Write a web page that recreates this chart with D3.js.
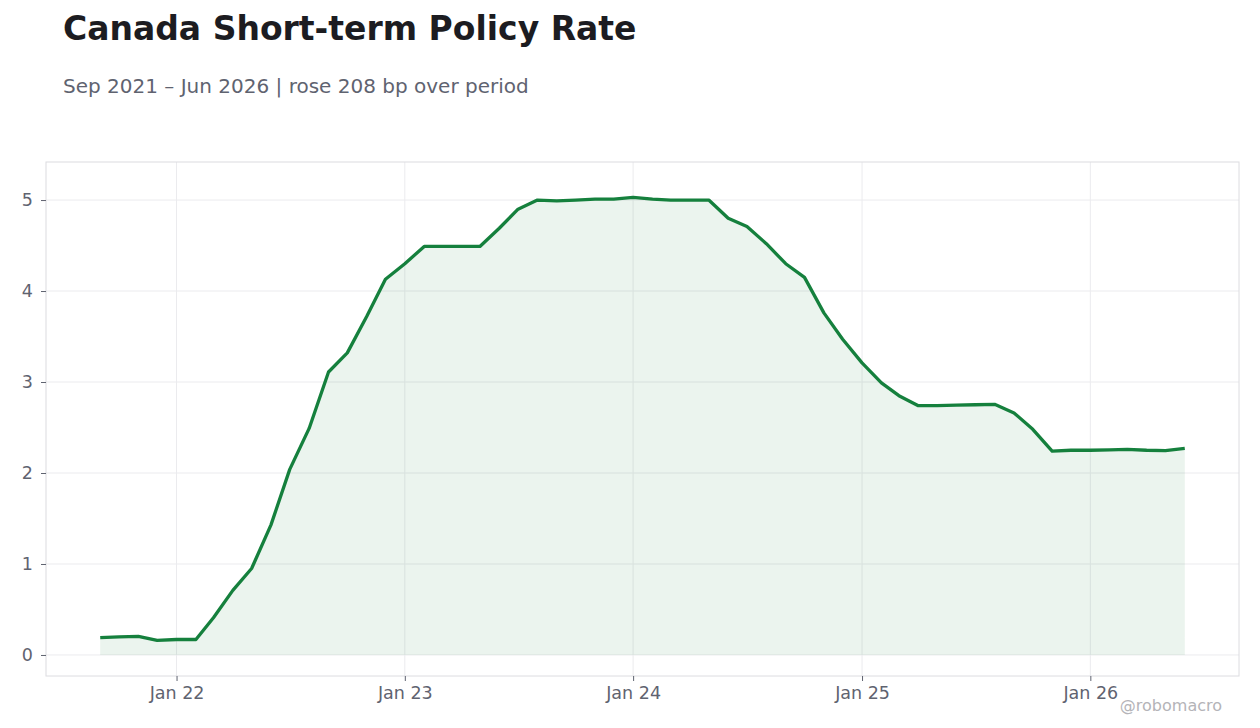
<!DOCTYPE html>
<html>
<head>
<meta charset="utf-8">
<script src="https://cdn.jsdelivr.net/npm/d3@7"></script>
<style>
    body { margin: 0; background: #fff; }
    svg { display: block; font-family: "DejaVu Sans", sans-serif; }
</style>
</head>
<body>
<div id="chart"></div>
<script>
// monthly observations, Sep 2021 - Jun 2026
const months = [
    "2021-09", "2021-10", "2021-11", "2021-12",
    "2022-01", "2022-02", "2022-03", "2022-04", "2022-05", "2022-06",
    "2022-07", "2022-08", "2022-09", "2022-10", "2022-11", "2022-12",
    "2023-01", "2023-02", "2023-03", "2023-04", "2023-05", "2023-06",
    "2023-07", "2023-08", "2023-09", "2023-10", "2023-11", "2023-12",
    "2024-01", "2024-02", "2024-03", "2024-04", "2024-05", "2024-06",
    "2024-07", "2024-08", "2024-09", "2024-10", "2024-11", "2024-12",
    "2025-01", "2025-02", "2025-03", "2025-04", "2025-05", "2025-06",
    "2025-07", "2025-08", "2025-09", "2025-10", "2025-11", "2025-12",
    "2026-01", "2026-02", "2026-03", "2026-04", "2026-05", "2026-06"
];
const rates = [
    0.19, 0.20, 0.205, 0.16,
    0.17, 0.17, 0.41, 0.71, 0.95, 1.43,
    2.04, 2.49, 3.11, 3.32, 3.72, 4.13,
    4.30, 4.49, 4.49, 4.49, 4.49, 4.69,
    4.90, 5.00, 4.99, 5.00, 5.01, 5.01,
    5.03, 5.01, 5.00, 5.00, 5.00, 4.80,
    4.71, 4.52, 4.30, 4.15, 3.76, 3.47,
    3.21, 2.99, 2.85, 2.74, 2.74, 2.745,
    2.75, 2.755, 2.66, 2.48, 2.24, 2.25,
    2.25, 2.255, 2.26, 2.25, 2.245, 2.27
];
const yTicks = [0, 1, 2, 3, 4, 5];
const xTickDates = ["2022-01", "2023-01", "2024-01", "2025-01", "2026-01"];
const yDomain = [-0.231, 5.418];

const parseMonth = d3.timeParse("%Y-%m");
const data = months.map((m, i) => ({date: parseMonth(m), value: rates[i]}));

const width = 1260, height = 728;
const margin = {top: 162, right: 21, bottom: 52, left: 46};
const innerW = width - margin.left - margin.right;
const innerH = height - margin.top - margin.bottom;

const svg = d3.select("#chart")
    .append("svg")
    .attr("width", width)
    .attr("height", height);

// titles
svg.append("text")
    .attr("x", 63)
    .attr("y", 40)
    .attr("font-size", "33px")
    .attr("font-weight", "bold")
    .attr("fill", "#1c1c21")
    .text("Canada Short-term Policy Rate");

svg.append("text")
    .attr("x", 63)
    .attr("y", 93)
    .attr("font-size", "20px")
    .attr("fill", "#5f6370")
    .text("Sep 2021 \u2013 Jun 2026 | rose 208 bp over period");

const g = svg.append("g")
    .attr("transform", `translate(${margin.left},${margin.top})`);

// x scale with 5% padding either side of the data
const first = data[0].date, last = data[data.length - 1].date;
const pad = (last - first) * 0.05;
const x = d3.scaleTime()
    .domain([new Date(+first - pad), new Date(+last + pad)])
    .range([0, innerW]);

const y = d3.scaleLinear()
    .domain(yDomain)
    .range([innerH, 0]);

const xTicks = xTickDates.map(parseMonth);

// grid
g.append("g").selectAll("line.hgrid")
    .data(yTicks)
    .enter().append("line")
    .attr("x1", 0).attr("x2", innerW)
    .attr("y1", d => y(d)).attr("y2", d => y(d))
    .attr("stroke", "#ebebee")
    .attr("stroke-width", 1);

g.append("g").selectAll("line.vgrid")
    .data(xTicks)
    .enter().append("line")
    .attr("x1", d => x(d)).attr("x2", d => x(d))
    .attr("y1", 0).attr("y2", innerH)
    .attr("stroke", "#ebebee")
    .attr("stroke-width", 1);

// area + line
const area = d3.area()
    .x(d => x(d.date))
    .y0(y(0))
    .y1(d => y(d.value));

g.append("path")
    .datum(data)
    .attr("d", area)
    .attr("fill", "#15803d")
    .attr("fill-opacity", 0.085);

const line = d3.line()
    .x(d => x(d.date))
    .y(d => y(d.value));

g.append("path")
    .datum(data)
    .attr("d", line)
    .attr("fill", "none")
    .attr("stroke", "#15803d")
    .attr("stroke-width", 3.3)
    .attr("stroke-linejoin", "round");

// frame
g.append("rect")
    .attr("x", 0).attr("y", 0)
    .attr("width", innerW).attr("height", innerH)
    .attr("fill", "none")
    .attr("stroke", "#dcdce0")
    .attr("stroke-width", 1);

// axes
const xAxis = g.append("g")
    .attr("transform", `translate(0,${innerH})`)
    .call(d3.axisBottom(x)
        .tickValues(xTicks)
        .tickFormat(d3.timeFormat("Jan %y"))
        .tickSize(5)
        .tickPadding(6));

const yAxis = g.append("g")
    .call(d3.axisLeft(y)
        .tickValues(yTicks)
        .tickFormat(d3.format("d"))
        .tickSize(5)
        .tickPadding(8));

[xAxis, yAxis].forEach(ax => {
    ax.select(".domain").remove();
    ax.selectAll(".tick line").attr("stroke", "#5f6370");
    ax.selectAll(".tick text")
        .attr("fill", "#5f6370")
        .attr("font-size", "17.5px")
        .attr("font-family", "DejaVu Sans, sans-serif");
});

// watermark
svg.append("text")
    .attr("x", 1222)
    .attr("y", 711)
    .attr("text-anchor", "end")
    .attr("font-size", "16px")
    .attr("fill", "#b4b4b8")
    .text("@robomacro");
</script>
</body>
</html>
